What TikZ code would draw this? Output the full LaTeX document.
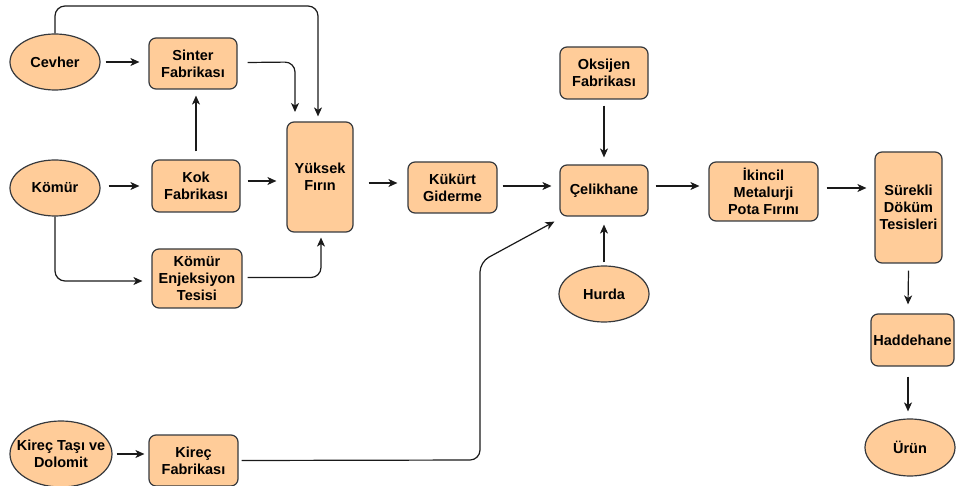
\documentclass[tikz,border=0pt]{standalone}
\usepackage{fontspec}
\setmainfont{Liberation Sans}
\usetikzlibrary{shapes.geometric,arrows.meta}
\definecolor{boxfill}{HTML}{FFCC99}
\definecolor{boxline}{HTML}{36393D}
\definecolor{linkc}{HTML}{1A1A1A}
\tikzset{
  lbl/.style={font=\fontsize{14.5}{17}\selectfont\bfseries, text=black, align=center},
  stepbox/.style={lbl, draw=boxline, fill=boxfill, line width=1.2pt, rounded corners=7pt,
    inner sep=0pt, minimum width=#1},
  stepbox/.default=88pt,
  oval/.style={lbl, ellipse, draw=boxline, fill=boxfill, line width=1.2pt, inner sep=0pt,
    minimum width=90pt, minimum height=56pt},
  link/.style={draw=linkc, line width=1.2pt, -{Stealth[length=9pt,width=8pt,inset=2.5pt]}},
  elbow/.style={link, rounded corners=10pt}
}
\begin{document}
\begin{tikzpicture}[x=1pt,y=-1pt]
\useasboundingbox (0,0) rectangle (956,486);

% raw materials
\node[oval] (cev) at (55,62) {Cevher};
\node[oval] (kom) at (55,188) {Kömür};
% the caption is wider than the oval, so it is set as a centred label
\node[oval, minimum width=102pt, minimum height=66pt,
  label={[lbl]center:{Kireç Taşı ve\\Dolomit}}] (kir) at (61,454) {};
\node[oval] (hur) at (604,294) {Hurda};

% plants
\node[stepbox, minimum height=51pt] (sin) at (193,63.5) {Sinter\\Fabrikası};
\node[stepbox, minimum height=52pt] (kok) at (196,186) {Kok\\Fabrikası};
\node[stepbox=90pt, minimum height=59pt] (enj) at (197,278.5) {Kömür\\Enjeksiyon\\Tesisi};
\node[stepbox=66pt, minimum height=110pt] (yf) at (320,177) {Yüksek\\Fırın};
\node[stepbox=89pt, minimum height=51pt] (kuk) at (452.5,187.5) {Kükürt\\Giderme};
\node[stepbox, minimum height=52pt] (oks) at (604,73) {Oksijen\\Fabrikası};
\node[stepbox, minimum height=51pt] (cel) at (604,190.5) {Çelikhane};
\node[stepbox=109pt, minimum height=59pt] (ikn) at (763.5,191.5) {İkincil\\Metalurji\\Pota Fırını};
\node[stepbox=67pt, minimum height=111pt] (sur) at (908.5,207.5) {Sürekli\\Döküm\\Tesisleri};
\node[stepbox=83pt, minimum height=52pt] (had) at (912.5,340) {Haddehane};
\node[oval, minimum width=90pt, minimum height=57pt] (urn) at (910,447.5) {Ürün};
\node[stepbox=89pt, minimum height=51pt] (kfb) at (193.5,460.5) {Kireç\\Fabrikası};

% ore and coal routes
\draw[link] ([shift={(5,0)}]cev.east) -- ([shift={(-9,-1.5)}]sin.west);
\draw[elbow] (cev.north) -- (55,6) -- (318,6) -- ([shift={(-2,-5)}]yf.north);
\draw[elbow] ([shift={(10,-1)}]sin.east) -- (295,62) -- (295,112);
\draw[link] ([shift={(0,-8)}]kok.north) -- ([shift={(0,6)}]sin.south -| kok.north);
\draw[link] ([shift={(8,-2)}]kom.east) -- ([shift={(-12,0)}]kok.west);
\draw[link] ([shift={(7,-5)}]kok.east) -- ([shift={(-10,4)}]yf.west);
\draw[elbow] (kom.south) -- (55,281) -- ([shift={(-9,2.5)}]enj.west);
\draw[elbow] ([shift={(5,-1)}]enj.east) -- (321,277.5) -- ([shift={(1,5)}]yf.south);

% hot metal to steel
\draw[link] ([shift={(15,6)}]yf.east) -- ([shift={(-10,-4.5)}]kuk.west);
\draw[link] ([shift={(5,-1.5)}]kuk.east) -- ([shift={(-8,-4.5)}]cel.west);
\draw[link] ([shift={(0,6)}]oks.south) -- ([shift={(0,-7)}]cel.north);
\draw[link] ([shift={(0,-3)}]hur.north) -- ([shift={(0,8)}]cel.south);
\draw[link] ([shift={(4,0)}]kir.east) -- ([shift={(-4,-6.5)}]kfb.west);
\draw[elbow] ([shift={(3,0)}]kfb.east) -- (480,460) -- (480,262) -- ([shift={(-5,5)}]cel.south west);

% casting and rolling
\draw[link] ([shift={(7,-4.5)}]cel.east) -- ([shift={(-9,-5.5)}]ikn.west);
\draw[link] ([shift={(8,-3.5)}]ikn.east) -- ([shift={(-8,-19.5)}]sur.west);
\draw[link] ([shift={(0,7)}]sur.south) -- ([shift={(-4.5,-9)}]had.north);
\draw[link] ([shift={(-4.5,10)}]had.south) -- ([shift={(-2,-7)}]urn.north);
\end{tikzpicture}
\end{document}
